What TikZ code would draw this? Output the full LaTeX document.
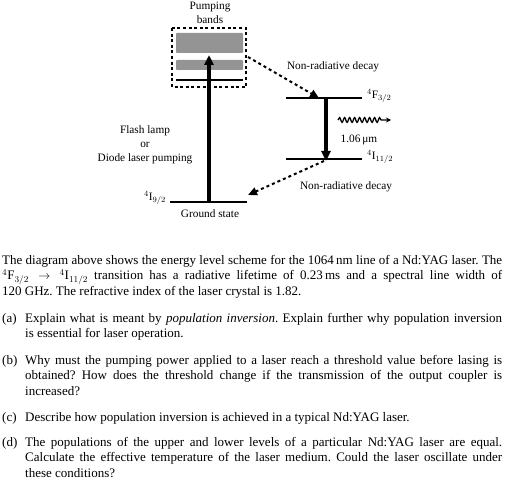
\documentclass[tikz,border=0pt]{standalone}
\usepackage{fontspec}
\setmainfont{Liberation Serif}
\usetikzlibrary{arrows.meta,decorations.pathmorphing,positioning}
\frenchspacing

\begin{document}
\begin{tikzpicture}[
    x=1pt, y=-1pt,
    lbl/.style={font=\fontsize{11.3}{14}\selectfont, inner sep=0pt},
    levelline/.style={line width=2pt},
    band/.style={fill=black!42, draw=none, rounded corners=0.8pt},
    pump/.style={-{Triangle[length=10pt,width=9pt]}, line width=3.2pt},
    decay/.style={-{Triangle[length=9pt,width=8pt]}, line width=2pt, dash pattern=on 3pt off 3pt},
    photon/.style={-{Stealth[length=5pt,width=5pt]}, line width=1.3pt, decorate, decoration={snake, amplitude=2.4pt, segment length=5pt, post length=8pt}},
    para/.style={font=\fontsize{13}{15.6}\selectfont, inner sep=0pt, anchor=north west, align=justify},
    itemlbl/.style={font=\fontsize{13}{15.6}\selectfont, inner sep=0pt, anchor=north west}
]
\useasboundingbox (0,0) rectangle (520,484);

% Pumping bands
\node[lbl, align=center] (bandstxt) at (210,13) {Pumping\\bands};
\fill[band] (176,33) rectangle (243,53);
\fill[band] (176,60) rectangle (243,70);
\draw[levelline] (176,80) -- (243,80);
\draw[line width=2pt, dash pattern=on 3pt off 2.6pt] (172,28) rectangle (246,87);
\coordinate (boxout) at (248,57);

% Ground state
\coordinate (gndl) at (170,202);
\coordinate (gndr) at (247,202);
\coordinate (gndpump) at (209,202);
\coordinate (pumptop) at (209,55);
\draw[levelline] (gndl) -- (gndr);
\node[lbl, anchor=east] (gndterm) at (166,198) {$^4$I$_{9/2}$};
\node[lbl] (gndname) at (210,214) {Ground state};
\draw[pump] (gndpump) -- (pumptop);
\node[lbl, align=center] (pumptxt) at (145,145) {Flash lamp\\or\\Diode laser pumping};

% Laser levels
\coordinate (upl) at (286,98);
\coordinate (upr) at (362,98);
\coordinate (lol) at (286,159);
\coordinate (lor) at (362,159);
\draw[levelline] (upl) -- (upr);
\draw[levelline] (lol) -- (lor);
\node[lbl, anchor=west] (upterm) at (367,96) {$^4$F$_{3/2}$};
\node[lbl, anchor=west] (loterm) at (367,157) {$^4$I$_{11/2}$};
\coordinate (emtop) at (326,98);
\coordinate (embot) at (326,161);
\draw[pump] (emtop) -- (embot);

% Photon
\coordinate (phl) at (338,120);
\coordinate (phr) at (391,120);
\draw[photon] (phl) -- (phr);
\node[lbl] (wavelen) at (359,140) {1.06\,μm};

% Non-radiative decays
\coordinate (updecay) at (319,98);
\coordinate (lodecay) at (324,161);
\coordinate (gnddecay) at (248,195);
\draw[decay] (boxout) -- (updecay);
\draw[decay] (lodecay) -- (gnddecay);
\node[lbl] (nrtop) at (333,67) {Non-radiative decay};
\node[lbl] (nrbot) at (346,187) {Non-radiative decay};

% Question text
\node[para, text width=500pt] (intro) at (2,255) {The diagram above shows the energy level scheme for the 1064\,nm line of a Nd:YAG laser. The\linebreak $^4$F$_{3/2}\rightarrow{}^4$I$_{11/2}$ transition has a radiative lifetime of 0.23\,ms and a spectral line width of\linebreak 120 GHz. The refractive index of the laser crystal is 1.82.};

\node[itemlbl] (qa) at (2,313) {(a)};
\node[para, text width=477pt] (qatxt) at (25,313) {Explain what is meant by \textit{population inversion}. Explain further why population inversion\linebreak is essential for laser operation.};
\node[itemlbl] (qb) at (2,355) {(b)};
\node[para, text width=477pt] (qbtxt) at (25,355) {Why must the pumping power applied to a laser reach a threshold value before lasing is\linebreak obtained? How does the threshold change if the transmission of the output coupler is\linebreak increased?};
\node[itemlbl] (qc) at (2,412) {(c)};
\node[para, text width=477pt] (qctxt) at (25,412) {Describe how population inversion is achieved in a typical Nd:YAG laser.};
\node[itemlbl] (qd) at (2,437) {(d)};
\node[para, text width=477pt] (qdtxt) at (25,437) {The populations of the upper and lower levels of a particular Nd:YAG laser are equal.\linebreak Calculate the effective temperature of the laser medium. Could the laser oscillate under\linebreak these conditions?};

\end{tikzpicture}
\end{document}
